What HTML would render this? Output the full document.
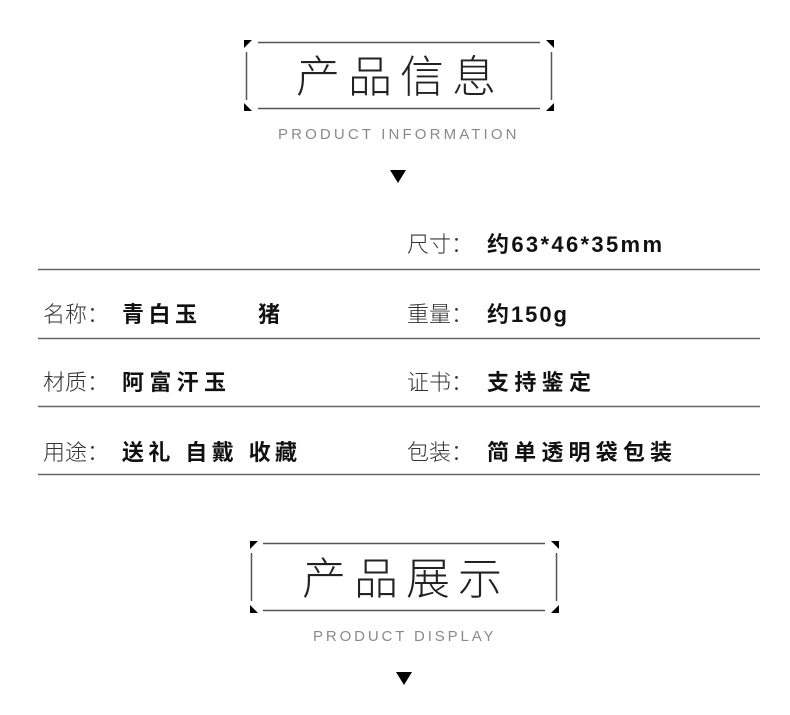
<!DOCTYPE html>
<html><head><meta charset="utf-8"><style>
html,body{margin:0;padding:0;background:#fff;}
svg{display:block;}
.t{font-family:"Liberation Sans","Noto Sans CJK SC",sans-serif;font-weight:300;fill:#222;}
.en{font-family:"Liberation Sans",sans-serif;fill:#8a8a8a;font-size:15px;letter-spacing:1.5px;}
.lb{font-family:"Liberation Sans","Noto Sans CJK SC",sans-serif;font-size:22px;fill:#333;font-weight:300;}
.v{font-family:"Liberation Sans","Noto Sans CJK SC",sans-serif;font-size:22px;fill:#111;font-weight:bold;}
</style></head><body>
<svg width="790" height="715" viewBox="0 0 790 715" xmlns="http://www.w3.org/2000/svg">
<g stroke="#555" stroke-width="1.5" fill="none">
<line x1="258" y1="42.5" x2="540" y2="42.5"/>
<line x1="258" y1="108.5" x2="540" y2="108.5"/>
<line x1="246.5" y1="52" x2="246.5" y2="100"/>
<line x1="551.5" y1="52" x2="551.5" y2="100"/>
</g>
<polygon points="244,40 252,40 244,48" fill="#000"/>
<polygon points="554,40 546,40 554,48" fill="#000"/>
<polygon points="244,111 252,111 244,103" fill="#000"/>
<polygon points="554,111 546,111 554,103" fill="#000"/>
<text class="t" x="296" y="92" font-size="44" textLength="200" lengthAdjust="spacing">产品信息</text>
<text class="en" x="278" y="139" textLength="240" lengthAdjust="spacing">PRODUCT INFORMATION</text>
<polygon points="390,170 406,170 398,183" fill="#000"/>

<g stroke="#666" stroke-width="1.5">
<line x1="38" y1="269.5" x2="760" y2="269.5"/>
<line x1="38" y1="338.5" x2="760" y2="338.5"/>
<line x1="38" y1="406.5" x2="760" y2="406.5"/>
<line x1="38" y1="474.5" x2="760" y2="474.5"/>
</g>
<text class="lb" x="407" y="252" textLength="66" lengthAdjust="spacing">尺寸：</text><text class="v" x="487" y="252" textLength="175" lengthAdjust="spacing">约63*46*35mm</text>
<text class="lb" x="43" y="322" textLength="66" lengthAdjust="spacing">名称：</text><text class="v" x="122" y="322" textLength="75" lengthAdjust="spacing">青白玉</text><text class="v" x="258" y="322">猪</text>
<text class="lb" x="407" y="322" textLength="66" lengthAdjust="spacing">重量：</text><text class="v" x="487" y="322" textLength="80" lengthAdjust="spacing">约150g</text>
<text class="lb" x="43" y="390" textLength="66" lengthAdjust="spacing">材质：</text><text class="v" x="122" y="390" textLength="104" lengthAdjust="spacing">阿富汗玉</text>
<text class="lb" x="407" y="390" textLength="66" lengthAdjust="spacing">证书：</text><text class="v" x="487" y="390" textLength="104" lengthAdjust="spacing">支持鉴定</text>
<text class="lb" x="43" y="460" textLength="66" lengthAdjust="spacing">用途：</text><text class="v" x="122" y="460" textLength="175" lengthAdjust="spacing">送礼 自戴 收藏</text>
<text class="lb" x="407" y="460" textLength="66" lengthAdjust="spacing">包装：</text><text class="v" x="487" y="460" textLength="185" lengthAdjust="spacing">简单透明袋包装</text>

<g stroke="#555" stroke-width="1.5" fill="none">
<line x1="263" y1="543.5" x2="545" y2="543.5"/>
<line x1="263" y1="610.5" x2="545" y2="610.5"/>
<line x1="251.5" y1="553" x2="251.5" y2="601"/>
<line x1="556.5" y1="553" x2="556.5" y2="601"/>
</g>
<polygon points="250,541 258,541 250,549" fill="#000"/>
<polygon points="559,541 551,541 559,549" fill="#000"/>
<polygon points="250,613 258,613 250,605" fill="#000"/>
<polygon points="559,613 551,613 559,605" fill="#000"/>
<text class="t" x="302" y="594" font-size="44" textLength="200" lengthAdjust="spacing">产品展示</text>
<text class="en" x="313" y="641" textLength="182" lengthAdjust="spacing">PRODUCT DISPLAY</text>
<polygon points="396,672 412,672 404,685" fill="#000"/>
</svg>
</body></html>
